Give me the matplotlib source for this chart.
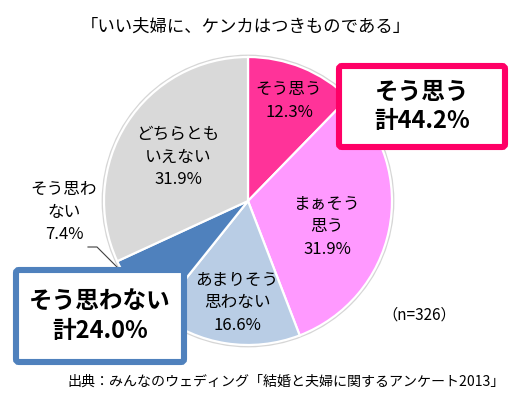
import matplotlib
matplotlib.use("Agg")
import matplotlib.pyplot as plt
from matplotlib.patches import Circle, FancyBboxPatch

plt.rcParams['font.family'] = ['Noto Sans CJK JP', 'DejaVu Sans']

W, H = 522, 395

TITLE = "「いい夫婦に、ケンカはつきものである」"
SOURCE = "出典：みんなのウェディング「結婚と夫婦に関するアンケート2013」"
N_NOTE = "（n=326）"

# slices, clockwise from 12 o'clock
CATEGORIES = ["そう思う", "まぁそう\n思う", "あまりそう\n思わない", "そう思わ\nない", "どちらとも\nいえない"]
VALUES = [12.3, 31.9, 16.6, 7.4, 31.9]
COLORS = ["#FF3399", "#FF99FF", "#B9CDE5", "#4F81BD", "#D9D9D9"]

AGREE_TOTAL = "そう思う\n計44.2%"
DISAGREE_TOTAL = "そう思わない\n計24.0%"


def Y(y):
    # pixel row -> data y
    return H - y


fig = plt.figure(figsize=(W / 100, H / 100), dpi=100)
ax = fig.add_axes([0, 0, 1, 1])

cx, cy, r = 248, 201, 144
ax.add_patch(Circle((cx, Y(cy)), r + 1, facecolor="none",
                    edgecolor="#d6d6d6", lw=2, zorder=0))
ax.pie(VALUES, colors=COLORS, startangle=90, counterclock=False,
       center=(cx, Y(cy)), radius=r,
       wedgeprops=dict(edgecolor="white", linewidth=1.6))

ax.set_xlim(0, W)
ax.set_ylim(0, H)
ax.set_aspect("equal")
ax.axis("off")

# slice labels
lab_pos = [(289, 101), (327, 227), (237, 303), (64, 212), (178, 157)]
for (x, y), cat, v in zip(lab_pos, CATEGORIES, VALUES):
    ax.text(x, Y(y), f"{cat}\n{v}%", ha="center", va="center",
            fontsize=12, linespacing=1.45, color="black")
# leader for the small slice
ax.plot([88, 97, 118], [Y(247), Y(247), Y(268)], color="#404040", lw=0.8)

ax.text(246, Y(27), TITLE, ha="center", va="center", fontsize=12.5)
ax.text(505, Y(382), SOURCE, ha="right", va="center", fontsize=10.1)
ax.text(419, Y(315), N_NOTE, ha="center", va="center", fontsize=11)

# total boxes
for (x0, y0, x1, y1), col, txt in [
        ((339, 66, 505, 147), "#FF0066", AGREE_TOTAL),
        ((16, 270, 184, 362), "#4F81BD", DISAGREE_TOTAL)]:
    ax.add_patch(FancyBboxPatch((x0, Y(y1)), x1 - x0, y1 - y0,
                                boxstyle="round,pad=0,rounding_size=3",
                                facecolor="white", edgecolor=col,
                                lw=4.4, zorder=5))
    ax.text((x0 + x1) / 2, Y((y0 + y1) / 2), txt, ha="center", va="center",
            fontsize=17, fontweight="bold", linespacing=1.3, zorder=6)

fig.savefig("out.png", dpi=100)
